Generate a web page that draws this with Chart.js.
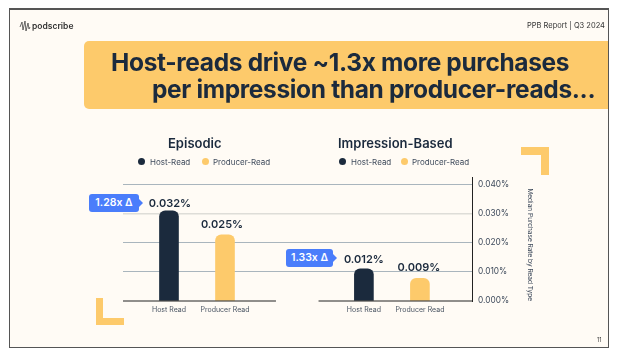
<!DOCTYPE html>
<html>
<head>
<meta charset="utf-8">
<script src="https://cdn.jsdelivr.net/npm/chart.js@4"></script>
<style>
  body { margin: 0; background: #fff; font-family: Inter, sans-serif; color: #1b2a3d; }
  #slide { position: absolute; left: 9px; top: 8px; width: 598px; height: 337px; background: #fffbf5;
           border: 1px solid #555; border-top-width: 2px; box-sizing: content-box; }
  canvas { position: absolute; left: 0; top: 0; }
  .t { position: absolute; white-space: nowrap; }
  #banner { position: absolute; left: 84px; top: 41px; width: 524px; height: 68px; background: #fdca6b; border-radius: 5px 0 0 5px; }
  .head { font-size: 24.5px; font-weight: 700; letter-spacing: -0.35px; line-height: 28px; }
  .sub { font-size: 13px; font-weight: 600; }
  .leg { font-size: 8px; color: #3f4b5c; }
  .dot { position: absolute; width: 7px; height: 7px; border-radius: 50%; }
  .corner { position: absolute; background: #fdca6b; }
  .delta { position: absolute; background: #4a7dfb; color: #fff; border-radius: 3px; font-size: 10.5px; font-weight: 600;
           height: 18px; line-height: 18px; text-align: center; }
  .delta:after { content: ''; position: absolute; right: -4px; top: 5px; border-left: 4px solid #4a7dfb;
           border-top: 4px solid transparent; border-bottom: 4px solid transparent; }
</style>
</head>
<body>
<div id="slide"></div>
<div id="banner"></div>
<canvas id="readChart" width="624" height="353"></canvas>

<svg style="position:absolute;left:19px;top:20px" width="12" height="12" viewBox="0 0 12 12" fill="none" stroke="#444" stroke-width="0.8">
  <path d="M1 7 L3 2 L4 10 L6 1 L7 11 L9 3 L10 9 L11 7"/>
</svg>
<div class="t" style="left:32px;top:21px;font-size:8.5px;font-weight:600;color:#333">podscribe</div>
<div class="t" style="left:527px;top:21px;font-size:7.5px;color:#333">PPB Report | Q3 2024</div>
<div class="t" style="left:597px;top:337px;font-size:5.5px;color:#333">11</div>

<div class="t head" style="left:111px;top:48px">Host-reads drive ~1.3x more purchases</div>
<div class="t head" style="left:152px;top:75px">per impression than producer-reads...</div>

<div class="t sub" style="left:168px;top:135px">Episodic</div>
<div class="t sub" style="left:338px;top:135px">Impression-Based</div>

<div class="dot" style="left:138px;top:158px;background:#1b2a3d"></div>
<div class="t leg" style="left:150px;top:157px">Host-Read</div>
<div class="dot" style="left:202px;top:158px;background:#fdca6b"></div>
<div class="t leg" style="left:213px;top:157px">Producer-Read</div>
<div class="dot" style="left:339px;top:158px;background:#1b2a3d"></div>
<div class="t leg" style="left:351px;top:157px">Host-Read</div>
<div class="dot" style="left:401px;top:158px;background:#fdca6b"></div>
<div class="t leg" style="left:412px;top:157px">Producer-Read</div>

<div class="corner" style="left:521px;top:147px;width:28px;height:8px"></div>
<div class="corner" style="left:541px;top:147px;width:8px;height:28px"></div>
<div class="corner" style="left:96px;top:298px;width:7px;height:27px"></div>
<div class="corner" style="left:96px;top:318px;width:28px;height:7px"></div>

<div class="delta" style="left:89px;top:194px;width:50px">1.28x Δ</div>
<div class="delta" style="left:286px;top:249px;width:47px">1.33x Δ</div>

<script>
const readTypes = ['Host Read', 'Producer Read', 'Host Read', 'Producer Read'];
const barSlots = [1, 2, 4.48, 5.48];
const barHeights = [0.0309, 0.0227, 0.011, 0.0078];
const valueLabels = ['0.032%', '0.025%', '0.012%', '0.009%'];
const yTicks = [0, 0.01, 0.02, 0.03, 0.04];

const navy = '#1b2a3d';
const gold = '#fdca6b';

const barNotes = {
  id: 'barNotes',
  afterDatasetsDraw(chart) {
    const { ctx, scales } = chart;
    const lift = [7, 10, 9, 11];
    const shift = [1, -3, 0, -1];
    ctx.save();
    // baseline has a gap between the two groups
    ctx.strokeStyle = '#222';
    ctx.lineWidth = 1.2;
    const y0 = scales.y.getPixelForValue(0);
    [[scales.x.min, 2.91], [3.67, scales.x.max]].forEach(seg => {
      ctx.beginPath();
      ctx.moveTo(scales.x.getPixelForValue(seg[0]), y0);
      ctx.lineTo(scales.x.getPixelForValue(seg[1]), y0);
      ctx.stroke();
    });
    ctx.fillStyle = navy;
    ctx.font = '600 11px Inter';
    ctx.textAlign = 'center';
    ctx.textBaseline = 'middle';
    chart.getDatasetMeta(0).data.forEach((bar, i) => {
      ctx.fillText(valueLabels[i], bar.x + shift[i], bar.y - lift[i]);
    });
    ctx.restore();
  }
};

new Chart(document.getElementById('readChart'), {
  type: 'bar',
  data: {
    datasets: [{
      data: barSlots.map((slot, i) => ({ x: slot, y: barHeights[i] })),
      backgroundColor: [navy, gold, navy, gold],
      barThickness: 19,
      borderRadius: { topLeft: 6, topRight: 6 },
      borderSkipped: 'bottom'
    }]
  },
  plugins: [barNotes],
  options: {
    responsive: false,
    animation: false,
    layout: { padding: { left: 123, top: 177, right: 90, bottom: 32 } },
    plugins: { legend: { display: false }, tooltip: { enabled: false } },
    scales: {
      x: {
        type: 'linear',
        offset: false,
        min: 0.179,
        max: 6.41,
        grid: { display: false, drawTicks: false },
        border: { display: false },
        afterBuildTicks: axis => { axis.ticks = barSlots.map(v => ({ value: v })); },
        afterFit: axis => { axis.height = 20; },
        ticks: {
          autoSkip: false,
          maxRotation: 0,
          padding: 5,
          color: '#4a5563',
          font: { family: 'Inter', size: 7 },
          callback: (v, i) => readTypes[i]
        }
      },
      y: {
        position: 'right',
        min: 0,
        max: 0.0425,
        afterBuildTicks: axis => { axis.ticks = yTicks.map(v => ({ value: v })); },
        afterFit: axis => { axis.width = 62; },
        grid: {
          drawTicks: false,
          color: c => c.tick.value === 0.03 ? '#deddd8' : (c.tick.value === 0 ? 'rgba(0,0,0,0)' : '#a9b5bd'),
          lineWidth: c => c.tick.value === 0.03 ? 1.5 : 1
        },
        border: { display: true, color: '#222', width: 1 },
        ticks: {
          padding: 6,
          color: '#3f4b5c',
          font: { family: 'Inter', size: 8.3 },
          callback: v => v.toFixed(3) + '%'
        },
        title: {
          display: true,
          text: 'Median Purchase Rate by Read Type',
          align: 'start',
          padding: 0,
          color: '#3f4b5c',
          font: { family: 'Inter', size: 6.5 }
        }
      }
    }
  }
});
</script>
</body>
</html>
